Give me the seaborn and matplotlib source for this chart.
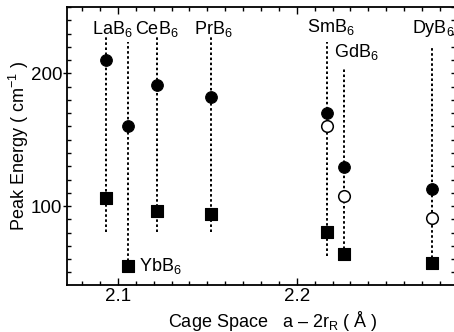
import numpy as np
import pandas as pd
import matplotlib
matplotlib.use("Agg")
import matplotlib.pyplot as plt
import seaborn as sns
from matplotlib.ticker import MultipleLocator

# ---- data ----
compounds = ["LaB$_6$", "YbB$_6$", "CeB$_6$", "PrB$_6$", "SmB$_6$", "GdB$_6$", "DyB$_6$"]
cage_space = [2.0933, 2.1058, 2.1217, 2.1519, 2.2168, 2.2265, 2.2755]
peak_high = [210, 160, 191, 182, 170, 129.6, 113]
peak_open = [np.nan, np.nan, np.nan, np.nan, 160, 107.5, 90.7]
peak_low = [106, 55, 96.5, 94, 80.7, 63.7, 57]
line_top = [228.6, 223.5, 228.6, 228.6, 223.5, 203.5, 219.7]
line_bottom = [80.7, 55, 80.7, 80.7, 62, 63.7, 57]
x_ticks = [2.1, 2.2]
x_ticklabels = ["2.1", "2.2"]
y_ticks = [100, 200]
y_ticklabels = ["100", "200"]

sns.set_style("ticks")
plt.rcParams["font.family"] = ["Liberation Sans", "DejaVu Sans"]
plt.rcParams["mathtext.fontset"] = "custom"
plt.rcParams["mathtext.rm"] = "Liberation Sans"
plt.rcParams["mathtext.default"] = "regular"
plt.rcParams["text.color"] = "black"
plt.rcParams["axes.labelcolor"] = "black"
FS_TICK = 13.5
FS = 13

df = pd.DataFrame({"x": cage_space, "high": peak_high, "open": peak_open, "low": peak_low})

fig = plt.figure(figsize=(4.54, 3.32), dpi=100)
ax = fig.add_axes([67 / 454, (332 - 285) / 332, (455 - 67) / 454, (285 - 7) / 332])

ax.vlines(cage_space, line_bottom, line_top, colors="black",
          linestyles=(0, (1.3, 1.3)), linewidth=1.4, zorder=1)

sns.scatterplot(data=df, x="x", y="high", ax=ax, marker="o", s=70,
                color="black", edgecolor="black", linewidth=0.8, zorder=3, legend=False)
sns.scatterplot(data=df.dropna(), x="x", y="open", ax=ax, marker="o", s=70,
                facecolor="white", edgecolor="black", linewidth=1.1, zorder=3, legend=False)
sns.scatterplot(data=df, x="x", y="low", ax=ax, marker="s", s=70,
                color="black", edgecolor="black", linewidth=0.8, zorder=3, legend=False)

# compound labels (offsets in points from the top of each line; baseline-anchored)
label_offsets = {
    "LaB$_6$": (-10, 1.2), "CeB$_6$": (-16, 1.2), "PrB$_6$": (-12, 1.2),
    "SmB$_6$": (-14, 7), "GdB$_6$": (-7, 8.4), "DyB$_6$": (-14, 10),
}
for name, x, top in zip(compounds, cage_space, line_top):
    if name in label_offsets:
        dx, dy = label_offsets[name]
        ax.annotate(name, xy=(x, top), xytext=(dx, dy), textcoords="offset points",
                    ha="left", va="baseline", fontsize=FS, color="black")
# YbB6 label beside its square
i = compounds.index("YbB$_6$")
ax.annotate(compounds[i], xy=(cage_space[i], peak_low[i]), xytext=(8, -4.1),
            textcoords="offset points", ha="left", va="baseline", fontsize=FS,
            color="black")

ax.set_xlim(2.0715, 2.2885)
ax.set_ylim(40.5, 250)
ax.xaxis.set_minor_locator(MultipleLocator(0.01))
ax.yaxis.set_minor_locator(MultipleLocator(10))
ax.set_xticks(x_ticks)
ax.set_xticklabels(x_ticklabels)
ax.set_yticks(y_ticks)
ax.set_yticklabels(y_ticklabels)

for s in ax.spines.values():
    s.set_visible(True)
    s.set_linewidth(1.3)
    s.set_color("black")
ax.tick_params(axis="x", which="major", direction="in", length=4.8, width=1.0,
               top=True, labelsize=FS_TICK, pad=2.5, colors="black")
ax.tick_params(axis="y", which="major", direction="inout", length=6, width=1.0,
               right=True, labelsize=FS_TICK, pad=0.5, colors="black")
ax.tick_params(which="minor", direction="in", length=3, width=1.0,
               top=True, right=True, colors="black")

ax.set_xlabel("Cage Space   a \u2013 2r$_R$ ( \u00c5 )", fontsize=FS)
ax.xaxis.set_label_coords((273 - 67) / 388, -(309 - 285) / 278)
ax.set_ylabel("Peak Energy ( cm$^{-1}$ )", fontsize=FS)
ax.yaxis.set_label_coords(-(67 - 31) / 388, 0.5)

fig.savefig("out.png", dpi=100)
